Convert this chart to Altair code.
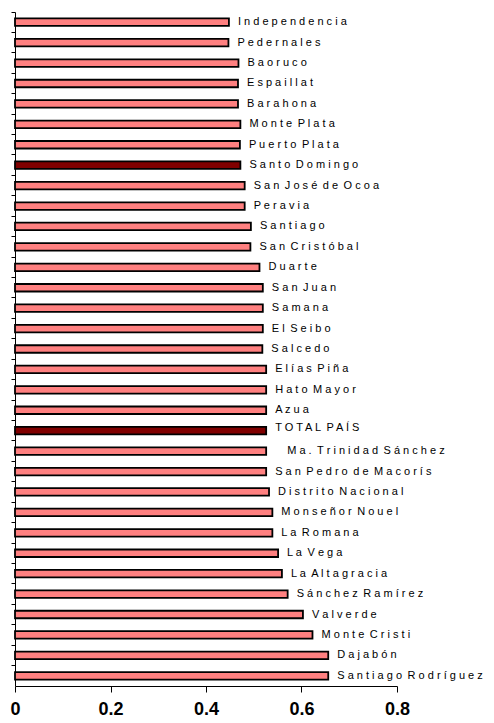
import altair as alt
import pandas as pd

provinces = [
    "Independencia", "Pedernales", "Baoruco", "Espaillat", "Barahona",
    "Monte Plata", "Puerto Plata", "Santo Domingo", "San José de Ocoa",
    "Peravia", "Santiago", "San Cristóbal", "Duarte", "San Juan", "Samana",
    "El Seibo", "Salcedo", "Elías Piña", "Hato Mayor", "Azua", "TOTAL PAÍS",
    "Ma. Trinidad Sánchez", "San Pedro de Macorís", "Distrito Nacional",
    "Monseñor Nouel", "La Romana", "La Vega", "La Altagracia",
    "Sánchez Ramírez", "Valverde", "Monte Cristi", "Dajabón",
    "Santiago Rodríguez",
]
values = [
    0.448, 0.447, 0.468, 0.467, 0.467,
    0.472, 0.471, 0.472, 0.481,
    0.481, 0.494, 0.493, 0.512, 0.519, 0.519,
    0.519, 0.518, 0.526, 0.526, 0.526, 0.526,
    0.526, 0.526, 0.532,
    0.539, 0.539, 0.551, 0.559,
    0.571, 0.603, 0.623, 0.656,
    0.656,
]
highlighted = ["Santo Domingo", "TOTAL PAÍS"]
x_ticks = [0, 0.2, 0.4, 0.6, 0.8]

df = pd.DataFrame({"provincia": provinces, "valor": values})
df["grupo"] = ["destacado" if p in highlighted else "normal" for p in provinces]

y_scale = alt.Scale(paddingOuter=0, paddingInner=0, round=False)

y_enc = alt.Y(
    "provincia:N",
    sort=provinces,
    scale=y_scale,
    axis=alt.Axis(
        title=None, labels=False, ticks=True, tickSize=4, bandPosition=0,
        domainColor="black", tickColor="black", domainWidth=1, tickWidth=1,
    ),
)
x_enc = alt.X(
    "valor:Q",
    scale=alt.Scale(domain=[0, 0.8], nice=False, round=False),
    axis=alt.Axis(
        title=None, values=x_ticks, grid=False, tickSize=6,
        labelFontSize=18, labelFontWeight="bold", labelFont="Liberation Sans",
        labelColor="black", labelPadding=8, domainColor="black",
        tickColor="black", labelFlush=False,
        labelExpr="datum.value == 0 ? '0' : format(datum.value, '.1f')",
    ),
)

bars = alt.Chart(df).mark_bar(size=7.5, stroke="black", strokeWidth=1.8).encode(
    y=y_enc,
    x=x_enc,
    color=alt.Color(
        "grupo:N",
        scale=alt.Scale(domain=["normal", "destacado"], range=["#FF8080", "#800000"]),
        legend=None,
    ),
)

# the original labels are drawn with wide character spacing
spaced = (
    "replace(replace(datum.provincia, regexp(' ', 'g'), '\u2002'), "
    "regexp('(\\\\S)(?=\\\\S)', 'g'), '$1 ')"
)

text_style = dict(align="left", baseline="middle", font="Liberation Sans",
                  fontSize=11, color="black")


def label_layer(filter_expr, **kw):
    return alt.Chart(df).transform_filter(filter_expr).transform_calculate(
        etiqueta=spaced
    ).mark_text(**text_style, **kw).encode(
        y=alt.Y("provincia:N", sort=provinces, scale=y_scale),
        x="valor:Q",
        text="etiqueta:N",
    )


labels = label_layer(
    "datum.provincia != 'TOTAL PAÍS' && datum.provincia != 'Ma. Trinidad Sánchez'",
    dx=9,
)
label_total = label_layer("datum.provincia == 'TOTAL PAÍS'", dx=9, dy=-3)
label_mts = label_layer("datum.provincia == 'Ma. Trinidad Sánchez'", dx=21)

chart = alt.layer(bars, labels, label_total, label_mts).properties(
    width=382,
    height=674,
    autosize=alt.AutoSizeParams(type="none"),
    padding={"left": 7, "top": 4, "right": 87, "bottom": 33},
    background="white",
).configure_view(stroke=None)

chart.save("out.html", embed_options={"renderer": "svg", "actions": False})
